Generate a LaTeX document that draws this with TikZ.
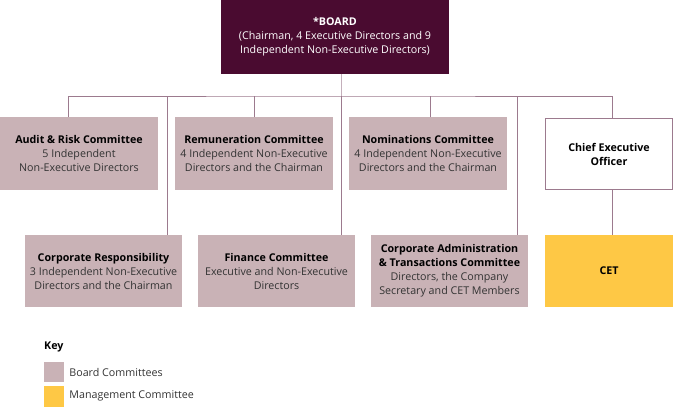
\documentclass[tikz,border=0pt]{standalone}
\usepackage{fontspec}
\setmainfont{Open Sans}
\usepackage{xcolor}
\usetikzlibrary{positioning,calc}

\definecolor{boardcol}{HTML}{4A0B30}
\definecolor{commcol}{HTML}{C9B2B6}
\definecolor{linecol}{HTML}{9C7A8E}
\definecolor{cetcol}{HTML}{FEC845}

\tikzset{
    txt/.style={font=\fontsize{10.7}{14}\selectfont, align=center, inner sep=0pt},
    comm/.style={txt, fill=commcol, text=black!80, minimum width=157pt, minimum height=72pt},
    link/.style={draw=linecol, line width=0.8pt},
}

\begin{document}
\begin{tikzpicture}[x=1pt,y=-1pt]
    \useasboundingbox (0,0) rectangle (674,409);

    % Board
    \node[txt, fill=boardcol, text=white, minimum width=228pt, minimum height=74pt] (board) at (335,37)
        {\textbf{*BOARD}\\(Chairman, 4 Executive Directors and 9\\Independent Non-Executive Directors)};

    % first row
    \node[comm, minimum width=158pt] (audit) at (79,153.5)
        {\textbf{\color{black}Audit \& Risk Committee}\\5 Independent\\Non-Executive Directors};
    \node[comm, minimum width=158pt] (remu) at (254,153.5)
        {\textbf{\color{black}Remuneration Committee}\\4 Independent Non-Executive\\Directors and the Chairman};
    \node[comm, minimum width=158pt] (nomin) at (428,153.5)
        {\textbf{\color{black}Nominations Committee}\\4 Independent Non-Executive\\Directors and the Chairman};
    \node[txt, draw=linecol, line width=0.8pt, fill=white, minimum width=127pt, minimum height=71pt] (ceo) at (609,154)
        {\textbf{Chief Executive}\\\textbf{Officer}};

    % second row
    \node[comm] (corpresp) at (103.5,271)
        {\textbf{\color{black}Corporate Responsibility}\\3 Independent Non-Executive\\Directors and the Chairman};
    \node[comm] (finance) at (276.5,271)
        {\textbf{\color{black}Finance Committee}\\Executive and Non-Executive\\Directors};
    \node[comm] (corpadmin) at (449.5,271)
        {\textbf{\color{black}Corporate Administration}\\\textbf{\color{black}\& Transactions Committee}\\Directors, the Company\\Secretary and CET Members};
    \node[txt, fill=cetcol, minimum width=128pt, minimum height=72pt] (cet) at (609,271)
        {\textbf{CET}};

    % lines
    \coordinate (bus) at (341,96);
    \draw[link, draw=linecol!60] (board.south -| bus) -- (bus);
    \draw[link] ([xshift=-11pt]audit.north) |- (bus) -| ([xshift=3pt]ceo.north);
    \draw[link] (remu.north) -- (remu.north |- bus);
    \draw[link] ([xshift=2pt]nomin.north) -- ([xshift=2pt]nomin.north |- bus);
    \draw[link] ([xshift=-15pt]corpresp.north east) -- ([xshift=-15pt]corpresp.north east |- bus);
    \draw[link] ([xshift=-14pt]finance.north east) -- ([xshift=-14pt]finance.north east |- bus);
    \draw[link] ([xshift=-11pt]corpadmin.north east) -- ([xshift=-11pt]corpadmin.north east |- bus);
    \draw[link] ([xshift=3pt]ceo.south) -- ([xshift=3pt]cet.north);

    % Key
    \node[txt, anchor=west] (key) at (44,347) {\textbf{Key}};
    \node[fill=commcol, minimum width=20pt, minimum height=20pt, inner sep=0pt] (keyboard) at (54,372) {};
    \node[txt, anchor=west, right=5pt of keyboard, text=black!80] (keyboardtxt) {Board Committees};
    \node[fill=cetcol, minimum width=20pt, minimum height=21pt, inner sep=0pt] (keymgmt) at (54,396) {};
    \node[txt, anchor=west, right=5pt of keymgmt, text=black!80] (keymgmttxt) {Management Committee};
\end{tikzpicture}
\end{document}
